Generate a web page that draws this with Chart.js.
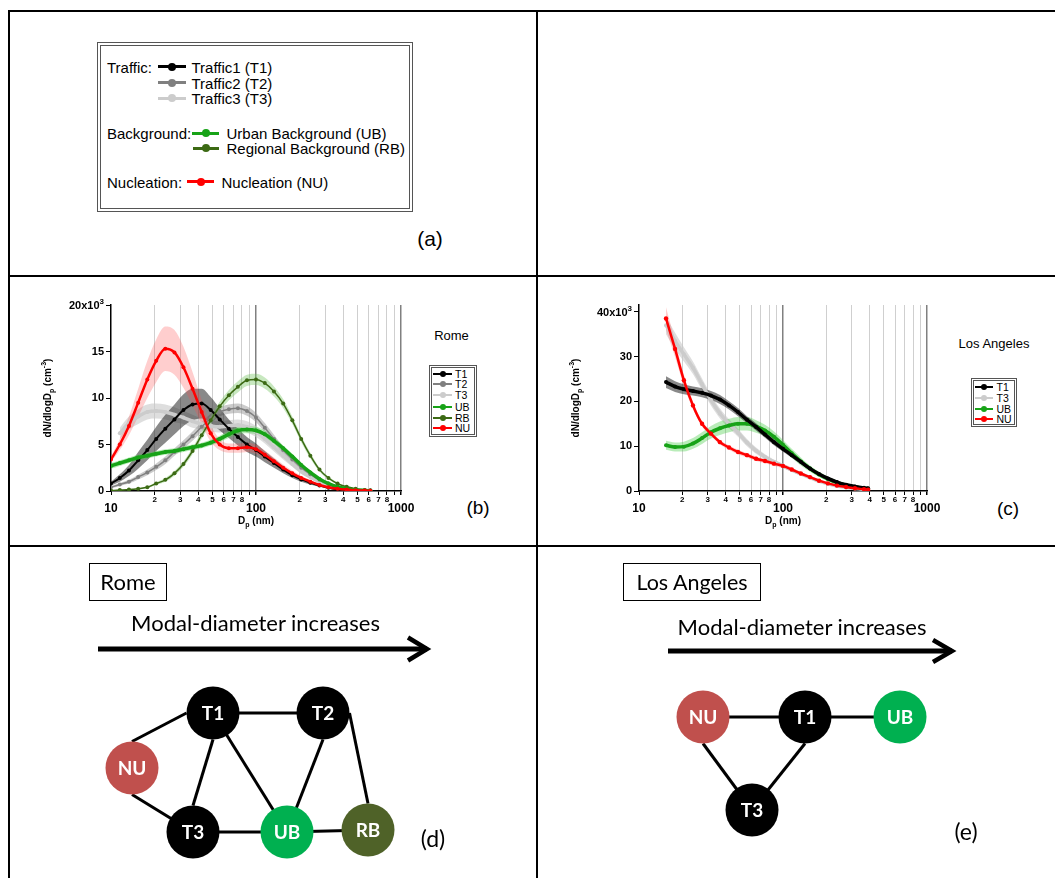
<!DOCTYPE html>
<html>
<head>
<meta charset="utf-8">
<title>Size distributions - Rome / Los Angeles</title>
<script src="https://cdn.jsdelivr.net/npm/chart.js@4.4.1/dist/chart.umd.min.js"></script>
<style>
  body { margin: 0; background: #fff; }
  #page { position: relative; width: 1055px; height: 878px; overflow: hidden;
          font-family: "Liberation Sans", Arial, sans-serif; color: #000; }
  .abs { position: absolute; white-space: nowrap; }
  canvas { position: absolute; }
  .dbl { position: absolute; box-sizing: border-box; border: 4px double #555; }
  .cal { font-family: Lato, "Open Sans", sans-serif; }
</style>
</head>
<body>
<div id="page">
  <canvas id="rome" width="390" height="240" style="left:30px;top:290px"></canvas>
  <canvas id="la" width="390" height="240" style="left:560px;top:290px"></canvas>
  <canvas id="romeNet" width="526" height="331" style="left:10px;top:547px"></canvas>
  <canvas id="laNet" width="517" height="331" style="left:538px;top:547px"></canvas>
</div>
<script>
// ---- data: Rome (nm, values in 10^3 cm-3) ----
const romeDiam = [10, 11.5, 13.3, 15.4, 17.8, 20.5, 23.7, 27.4, 31.6, 36.5, 42.2, 48.7, 56.2, 65, 75,
                  86.6, 100, 115, 133, 154, 178, 205, 237, 274, 316, 365, 422, 487, 562, 615];
const romeT1 = [0.8, 1.4, 2.2, 3.3, 4.4, 5.6, 6.7, 7.7, 8.7, 9.3, 9.4, 8.7, 7.7, 6.7, 5.8,
                5.0, 4.4, 3.7, 3.0, 2.3, 1.7, 1.25, 0.9, 0.6, 0.35, 0.2, 0.12, 0.06, 0.03, 0.02];
const romeT1Sd = [0.2, 0.4, 0.6, 0.9, 1.1, 1.3, 1.5, 1.6, 1.7, 1.7, 1.6, 1.4, 1.2, 1.0, 0.9,
                  0.8, 0.7, 0.6, 0.5, 0.4, 0.3, 0.25, 0.2, 0.15, 0.1, 0.07, 0.05, 0.03, 0.02, 0.02];
const romeT2 = [0.4, 0.7, 1.0, 1.5, 2.0, 2.6, 3.3, 4.2, 5.0, 5.9, 6.9, 7.8, 8.5, 8.8, 8.9,
                8.6, 7.9, 6.8, 5.6, 4.4, 3.4, 2.5, 1.8, 1.2, 0.8, 0.5, 0.3, 0.15, 0.08, 0.05];
const romeT2Sd = [0.1, 0.15, 0.2, 0.25, 0.3, 0.35, 0.4, 0.4, 0.45, 0.5, 0.5, 0.5, 0.5, 0.5, 0.5,
                  0.5, 0.5, 0.5, 0.45, 0.4, 0.35, 0.3, 0.25, 0.2, 0.15, 0.1, 0.07, 0.05, 0.03, 0.02];
const romeT3 = [null, 6.2, 7.3, 8.0, 8.5, 8.6, 8.5, 8.2, 7.9, 7.5, 7.2, 7.0, 6.9, 7.0, 7.1,
                6.9, 6.4, 5.6, 4.7, 3.8, 2.9, 2.1, 1.5, 1.0, 0.6, 0.35, 0.2, 0.1, 0.05, 0.03];
const romeT3Sd = [null, 0.6, 0.7, 0.8, 0.8, 0.8, 0.8, 0.8, 0.7, 0.7, 0.6, 0.6, 0.6, 0.6, 0.6,
                  0.6, 0.6, 0.5, 0.45, 0.4, 0.3, 0.25, 0.2, 0.15, 0.1, 0.07, 0.05, 0.03, 0.02, 0.02];
const romeUB = [2.7, 3.0, 3.3, 3.6, 3.8, 4.0, 4.2, 4.3, 4.5, 4.7, 4.9, 5.2, 5.6, 6.1, 6.5,
                6.6, 6.5, 6.1, 5.4, 4.6, 3.7, 2.8, 2.0, 1.3, 0.8, 0.45, 0.25, 0.12, 0.06, 0.03];
const romeUBSd = [0.3, 0.3, 0.3, 0.3, 0.3, 0.3, 0.3, 0.3, 0.3, 0.3, 0.3, 0.3, 0.35, 0.4, 0.4,
                  0.4, 0.4, 0.4, 0.35, 0.3, 0.3, 0.25, 0.2, 0.15, 0.1, 0.07, 0.05, 0.03, 0.02, 0.02];
const romeRB = [0.05, 0.1, 0.15, 0.25, 0.4, 0.8, 1.2, 1.9, 2.9, 4.3, 6.0, 7.6, 9.1, 10.3, 11.2,
                11.9, 12.0, 11.6, 10.7, 9.4, 7.6, 5.6, 3.8, 2.3, 1.4, 0.8, 0.45, 0.25, 0.12, 0.08];
const romeRBSd = [0.02, 0.03, 0.05, 0.08, 0.1, 0.15, 0.2, 0.25, 0.3, 0.35, 0.4, 0.45, 0.5, 0.55, 0.6,
                  0.6, 0.6, 0.6, 0.55, 0.5, 0.4, 0.35, 0.3, 0.2, 0.15, 0.1, 0.07, 0.05, 0.03, 0.02];
const romeNU = [3.4, 5.0, 7.0, 9.5, 12.0, 14.0, 15.3, 14.9, 13.3, 11.0, 8.5, 6.2, 5.0, 4.6, 4.6,
                4.7, 4.5, 3.9, 3.2, 2.5, 1.9, 1.4, 1.0, 0.65, 0.4, 0.25, 0.15, 0.08, 0.05, 0.03];
const romeNUSd = [0.3, 0.6, 1.0, 1.5, 2.0, 2.3, 2.4, 2.4, 2.2, 1.8, 1.3, 0.9, 0.6, 0.5, 0.5,
                  0.5, 0.5, 0.45, 0.4, 0.35, 0.3, 0.25, 0.2, 0.15, 0.1, 0.08, 0.05, 0.03, 0.02, 0.02];

// ---- data: Los Angeles ----
const laDiam = [15.4, 17.8, 20.5, 23.7, 27.4, 31.6, 36.5, 42.2, 48.7, 56.2, 65, 75,
                86.6, 100, 115, 133, 154, 178, 205, 237, 274, 316, 365, 390];
const laT1 = [24.3, 23.3, 22.7, 22.3, 21.9, 21.3, 20.4, 19.1, 17.6, 15.9, 14.3, 12.6,
              10.9, 9.4, 8.0, 6.5, 5.0, 3.8, 2.8, 2.0, 1.4, 1.0, 0.7, 0.6];
const laT1Sd = [1.3, 1.2, 1.1, 1.0, 1.0, 1.0, 1.0, 0.9, 0.9, 0.8, 0.8, 0.7,
                0.7, 0.6, 0.6, 0.5, 0.4, 0.35, 0.3, 0.25, 0.2, 0.15, 0.1, 0.1];
const laT3 = [37.0, 33.5, 30.5, 27.5, 23.8, 20.3, 17.3, 15.0, 13.0, 10.8, 9.0, 7.6,
              6.5, 5.6, 4.7, 3.8, 3.0, 2.2, 1.6, 1.1, 0.8, 0.55, 0.35, 0.28];
const laT3Sd = [2.0, 1.8, 1.6, 1.4, 1.3, 1.2, 1.1, 1.0, 0.9, 0.8, 0.7, 0.6,
                0.5, 0.5, 0.4, 0.35, 0.3, 0.25, 0.2, 0.15, 0.1, 0.08, 0.05, 0.05];
const laUB = [10.2, 9.8, 9.9, 10.6, 11.8, 13.1, 14.0, 14.6, 15.0, 15.0, 14.4, 13.5,
              12.1, 10.3, 8.4, 6.6, 5.0, 3.7, 2.7, 1.9, 1.3, 0.9, 0.6, 0.5];
const laUBSd = [1.0, 1.0, 1.1, 1.2, 1.3, 1.4, 1.5, 1.5, 1.5, 1.5, 1.4, 1.3,
                1.2, 1.1, 1.0, 0.9, 0.7, 0.6, 0.5, 0.4, 0.3, 0.2, 0.15, 0.1];
const laNU = [38.5, 31.7, 24.7, 19.1, 15.0, 12.8, 10.9, 9.7, 8.7, 8.0, 7.2, 6.7,
              6.1, 5.6, 4.8, 3.9, 3.1, 2.3, 1.7, 1.2, 0.9, 0.6, 0.4, 0.3];
const laNUSd = [2.5, 1.8, 1.2, 0.8, 0.6, 0.5, 0.5, 0.5, 0.5, 0.5, 0.5, 0.5,
                0.5, 0.5, 0.45, 0.4, 0.35, 0.3, 0.25, 0.2, 0.15, 0.1, 0.08, 0.05];

// ---- ticks ----
const xGrid = [10, 20, 30, 40, 50, 60, 70, 80, 90, 100, 200, 300, 400, 500, 600, 700, 800, 900, 1000];
const xMajorLabels = [10, 100, 1000];
const xMinorLabels = [20, 30, 40, 50, 60, 70, 80, 200, 300, 400, 500, 600, 700, 800];
const romeYTicks = [0, 5, 10, 15, 20];
const laYTicks = [0, 10, 20, 30, 40];

// ---- legend / diagram content ----
const keyGroups = ['Traffic:', 'Background:', 'Nucleation:'];
const keyNames = ['Traffic1 (T1)', 'Traffic2 (T2)', 'Traffic3 (T3)', 'Urban Background (UB)',
                  'Regional Background (RB)', 'Nucleation (NU)'];
const keyCodes = ['T1', 'T2', 'T3', 'UB', 'RB', 'NU'];

const romeNodes = ['T1', 'T2', 'NU', 'T3', 'UB', 'RB'];
const romeNodeX = [213, 323, 132, 193, 287, 368];
const romeNodeY = [713, 713, 768, 832, 832, 830];
const romeEdges = [['T1', 'T2', 'c', 'c'], ['NU', 'T1', 't', 'l'], ['T1', 'T3', 'b', 't'],
                   ['T1', 'UB', 'c', 'c'], ['T2', 'UB', 'b', 'c'], ['T2', 'RB', 'r', 't'],
                   ['NU', 'T3', 'b', 'c'], ['T3', 'UB', 'c', 'c'], ['UB', 'RB', 'c', 'c']];
const laNodes = ['NU', 'T1', 'UB', 'T3'];
const laNodeX = [703, 805, 900, 752];
const laNodeY = [717, 717, 717, 810];
const laEdges = [['NU', 'T1', 'c', 'c'], ['T1', 'UB', 'c', 'c'], ['NU', 'T3', 'b', 'c'], ['T1', 'T3', 'b', 'c']];

const colors = { T1: '#000000', T2: '#808080', T3: '#cccccc', UB: '#17a317', RB: '#3c6a14', NU: '#ff0000' };
const bands = { T1: 'rgba(40,40,40,0.55)', T2: 'rgba(140,140,140,0.45)', T3: 'rgba(200,200,200,0.6)',
                UB: 'rgba(70,205,70,0.38)', RB: 'rgba(110,195,90,0.38)', NU: 'rgba(255,80,80,0.28)' };
const nodeColors = { T1: '#000000', T2: '#000000', T3: '#000000', NU: '#c0504d', UB: '#00b050', RB: '#4f6228' };

const FONT = '"Liberation Sans", Arial, sans-serif';
const page = document.getElementById('page');

function put(html, css, cls) {
  const d = document.createElement('div');
  d.className = 'abs' + (cls ? ' ' + cls : '');
  d.innerHTML = html;
  d.style.cssText += css;
  page.appendChild(d);
  return d;
}
function key(x1, x2, y, color, lw, r) {
  put('', `left:${x1}px;top:${y - lw / 2}px;width:${x2 - x1}px;height:${lw}px;background:${color}`);
  put('', `left:${(x1 + x2) / 2 - r}px;top:${y - r}px;width:${2 * r}px;height:${2 * r}px;border-radius:50%;background:${color}`);
}
function text(x, y, s, size, cls, center) {
  return put(s, `left:${x}px;top:${y}px;font-size:${size}px;line-height:1;transform:translate(${center ? '-50%' : '0'},-50%)`, cls);
}

// frame of the figure
[[8, 10, 2, 868], [8, 10, 1047, 2], [536, 10, 2, 868], [8, 275, 1047, 2], [8, 545, 1047, 1.6]].forEach(r =>
  put('', `left:${r[0]}px;top:${r[1]}px;width:${r[2]}px;height:${r[3]}px;background:#000`));

// (a) legend
put('', 'left:97px;top:42px;width:316px;height:170px', 'dbl');
const keyRows = [[158, 186, 66.7, 191.5], [158, 186, 82.7, 191.5], [158, 186, 98.3, 191.5],
                 [192, 219, 133.3, 226.5], [193, 219, 148.3, 226.5], [187, 214, 181.7, 221.5]];
keyCodes.forEach((c, i) => {
  const r = keyRows[i];
  key(r[0], r[1], r[2], colors[c], 3, 4);
  text(r[3], r[2], keyNames[i], 15);
});
text(107, 66.7, keyGroups[0], 15);
text(107, 133.3, keyGroups[1], 15);
text(107, 181.7, keyGroups[2], 15);
text(430, 238, '(a)', 21, '', true);

// small legends inside (b) and (c)
function smallLegend(box, codes, x1, x2, tx, ys) {
  put('', `left:${box[0]}px;top:${box[1]}px;width:${box[2]}px;height:${box[3]}px;border-width:3px`, 'dbl');
  codes.forEach((c, i) => { key(x1, x2, ys[i], colors[c], 2, 3); text(tx, ys[i], c, 10.5); });
}
smallLegend([429, 365, 48, 72], ['T1', 'T2', 'T3', 'UB', 'RB', 'NU'], 433, 452, 455,
            [373.5, 384.3, 395.2, 406.5, 417.5, 428.3]);
smallLegend([971, 378, 46, 49], ['T1', 'T3', 'UB', 'NU'], 975, 993, 996.5, [386.7, 397.7, 408.5, 419.3]);
text(451.5, 335, 'Rome', 13, '', true);
text(994, 343, 'Los Angeles', 13, '', true);
text(478, 507, '(b)', 19, '', true);
text(1008, 508, '(c)', 19, '', true);

// (d) (e) captions
put('Rome', 'left:89px;top:563px;width:78px;height:38px;box-sizing:border-box;border:1px solid #000;font-size:22px;line-height:36px;text-align:center', 'cal');
put('Los Angeles', 'left:623px;top:563px;width:138px;height:38px;box-sizing:border-box;border:1px solid #000;font-size:21.5px;line-height:36px;text-align:center', 'cal');
text(255.5, 623, 'Modal-diameter increases', 22, 'cal', true);
text(802, 627, 'Modal-diameter increases', 22, 'cal', true);
text(433, 838, '(d)', 23, 'cal', true);
text(966, 831, '(e)', 23, 'cal', true);

// ---- size distribution charts ----
function richText(ctx, parts, x, y, size, rotate, alignRight) {
  ctx.save();
  ctx.translate(x, y);
  if (rotate) ctx.rotate(-Math.PI / 2);
  const fN = `bold ${size}px ${FONT}`, fS = `bold ${Math.round(size * 0.72)}px ${FONT}`;
  let w = 0;
  parts.forEach(p => { ctx.font = p[1] ? fS : fN; w += ctx.measureText(p[0]).width; });
  let cx = alignRight ? -w : -w / 2;
  ctx.fillStyle = '#000';
  ctx.textAlign = 'left';
  ctx.textBaseline = 'alphabetic';
  parts.forEach(p => {
    ctx.font = p[1] ? fS : fN;
    const dy = p[1] === 1 ? size * 0.3 : p[1] === 2 ? -size * 0.45 : 0;
    ctx.fillText(p[0], cx, size * 0.36 + dy);
    cx += ctx.measureText(p[0]).width;
  });
  ctx.restore();
}

const axisText = {
  id: 'axisText',
  afterDraw(chart, args, opts) {
    const { ctx, chartArea: a, scales: { x, y } } = chart;
    ctx.save();
    ctx.fillStyle = '#000';
    ctx.textAlign = 'center';
    ctx.textBaseline = 'middle';
    ctx.font = `bold 12px ${FONT}`;
    xMajorLabels.forEach(v => ctx.fillText(String(v), x.getPixelForValue(v), a.bottom + 17.5));
    ctx.font = `bold 8px ${FONT}`;
    xMinorLabels.forEach(v => ctx.fillText(String(v).charAt(0), x.getPixelForValue(v), a.bottom + 8.5));
    ctx.restore();
    // top y label with exponent
    richText(ctx, [[opts.top + 'x10', 0], ['3', 2]], a.left - 7, y.getPixelForValue(opts.top), 11, false, true);
    richText(ctx, [['dN/dlogD', 0], ['p', 1], [' (cm', 0], ['-3', 2], [')', 0]], a.left - 64, (a.top + a.bottom) / 2, 10, true);
    richText(ctx, [['D', 0], ['p', 1], [' (nm)', 0]], (a.left + a.right) / 2, a.bottom + 29.5, 10, false);
  }
};

function buildSets(diam, series) {
  const lines = [], fills = [];
  series.forEach(s => {
    const pts = [], up = [], lo = [];
    diam.forEach((d, i) => {
      if (s.mean[i] == null) return;
      pts.push({ x: d, y: s.mean[i] });
      up.push({ x: d, y: s.mean[i] + s.sd[i] });
      lo.push({ x: d, y: Math.max(0, s.mean[i] - s.sd[i]) });
    });
    lines.push({ data: pts, borderColor: colors[s.code], backgroundColor: colors[s.code], borderWidth: s.lw,
                 pointRadius: s.pr, pointBorderWidth: 0, pointBackgroundColor: colors[s.code],
                 cubicInterpolationMode: 'monotone', fill: false });
    fills.push({ data: up, borderWidth: 0, pointRadius: 0, backgroundColor: bands[s.code], fill: '+1',
                 cubicInterpolationMode: 'monotone' });
    fills.push({ data: lo, borderWidth: 0, pointRadius: 0, fill: false, cubicInterpolationMode: 'monotone' });
  });
  return lines.concat(fills);
}

function sizeChart(id, diam, series, yTicks, yMax, yWidth, padRight) {
  const top = yTicks[yTicks.length - 1];
  return new Chart(document.getElementById(id), {
    type: 'line',
    data: { datasets: buildSets(diam, series) },
    options: {
      responsive: false,
      animation: false,
      events: [],
      layout: { autoPadding: false, padding: { left: 0, right: padRight, top: 15, bottom: 0 } },
      plugins: { legend: { display: false }, tooltip: { enabled: false }, axisText: { top: top } },
      scales: {
        x: {
          type: 'logarithmic', min: 10, max: 1000,
          afterBuildTicks: s => { s.ticks = xGrid.map(v => ({ value: v, major: xMajorLabels.includes(v) })); },
          afterFit: s => { s.height = 39; },
          ticks: { display: false },
          grid: {
            color: c => c.tick.value === 10 ? 'rgba(0,0,0,0)' : (c.tick.value === 100 || c.tick.value === 1000 ? '#808080' : '#cfcfcf'),
            lineWidth: c => (c.tick.value === 100 || c.tick.value === 1000 ? 1.5 : 1),
            tickColor: '#000', tickLength: 4
          },
          border: { color: '#000', width: 1.5 }
        },
        y: {
          min: 0, max: yMax,
          afterBuildTicks: s => { s.ticks = yTicks.map(v => ({ value: v })); },
          afterFit: s => { s.width = yWidth; },
          ticks: { color: '#000', padding: 2, font: { family: FONT, size: 11, weight: 'bold' },
                   callback: v => (v === top ? '' : String(v)) },
          grid: { drawOnChartArea: false, tickLength: 5, tickColor: '#000' },
          border: { color: '#000', width: 1.5 }
        }
      }
    },
    plugins: [axisText]
  });
}

sizeChart('rome', romeDiam, [
  { code: 'NU', mean: romeNU, sd: romeNUSd, lw: 2.5, pr: 2 },
  { code: 'UB', mean: romeUB, sd: romeUBSd, lw: 3.5, pr: 2 },
  { code: 'RB', mean: romeRB, sd: romeRBSd, lw: 1.5, pr: 2 },
  { code: 'T1', mean: romeT1, sd: romeT1Sd, lw: 2, pr: 2 },
  { code: 'T2', mean: romeT2, sd: romeT2Sd, lw: 1.5, pr: 2 },
  { code: 'T3', mean: romeT3, sd: romeT3Sd, lw: 3.5, pr: 2 }
], romeYTicks, 20, 81, 19);

sizeChart('la', laDiam, [
  { code: 'NU', mean: laNU, sd: laNUSd, lw: 2.5, pr: 2.2 },
  { code: 'T1', mean: laT1, sd: laT1Sd, lw: 3.5, pr: 2 },
  { code: 'UB', mean: laUB, sd: laUBSd, lw: 3.5, pr: 2 },
  { code: 'T3', mean: laT3, sd: laT3Sd, lw: 3.5, pr: 2 }
], laYTicks, 41.5, 79, 23);

// ---- network diagrams ----
const NODE_R = 26.5;
const nodeText = {
  id: 'nodeText',
  afterDatasetsDraw(chart, args, opts) {
    const ctx = chart.ctx;
    ctx.save();
    ctx.fillStyle = '#fff';
    ctx.font = 'bold 19px Lato, "Open Sans", sans-serif';
    ctx.textAlign = 'center';
    ctx.textBaseline = 'middle';
    chart.getDatasetMeta(0).data.forEach((pt, i) => ctx.fillText(opts.names[i], pt.x, pt.y + 1));
    ctx.restore();
  }
};

function network(id, box, nodes, nx, ny, edges, arrow) {
  const at = (n, a) => {
    const i = nodes.indexOf(n);
    let x = nx[i], y = ny[i];
    if (a === 't') y -= NODE_R; else if (a === 'b') y += NODE_R;
    else if (a === 'l') x -= NODE_R; else if (a === 'r') x += NODE_R;
    return { x, y };
  };
  const sets = [{
    type: 'scatter',
    data: nodes.map((n, i) => ({ x: nx[i], y: ny[i] })),
    pointRadius: NODE_R, pointBorderWidth: 0,
    pointBackgroundColor: nodes.map(n => nodeColors[n])
  }];
  edges.forEach(e => sets.push({ type: 'line', data: [at(e[0], e[2]), at(e[1], e[3])],
                                 borderColor: '#000', borderWidth: 3, pointRadius: 0 }));
  sets.push({ type: 'line', data: [{ x: arrow.x0, y: arrow.y }, { x: arrow.x1 - 3, y: arrow.y }],
              borderColor: '#000', borderWidth: 5, pointRadius: 0 });
  sets.push({ type: 'line', data: [{ x: arrow.x1 - arrow.len, y: arrow.y - arrow.half },
                                   { x: arrow.x1 - 3, y: arrow.y },
                                   { x: arrow.x1 - arrow.len, y: arrow.y + arrow.half }],
              borderColor: '#000', borderWidth: 4.5, pointRadius: 0, borderJoinStyle: 'miter' });
  new Chart(document.getElementById(id), {
    type: 'scatter',
    data: { datasets: sets },
    options: {
      responsive: false, animation: false, events: [],
      layout: { autoPadding: false, padding: 0 },
      plugins: { legend: { display: false }, tooltip: { enabled: false }, nodeText: { names: nodes } },
      scales: {
        x: { type: 'linear', display: false, min: box[0], max: box[1] },
        y: { type: 'linear', display: false, min: box[2], max: box[3], reverse: true }
      }
    },
    plugins: [nodeText]
  });
}

network('romeNet', [10, 536, 547, 878], romeNodes, romeNodeX, romeNodeY, romeEdges,
        { x0: 98, x1: 430, y: 649, len: 22, half: 11.5 });
network('laNet', [538, 1055, 547, 878], laNodes, laNodeX, laNodeY, laEdges,
        { x0: 668, x1: 955, y: 651, len: 22, half: 11 });
</script>
</body>
</html>
